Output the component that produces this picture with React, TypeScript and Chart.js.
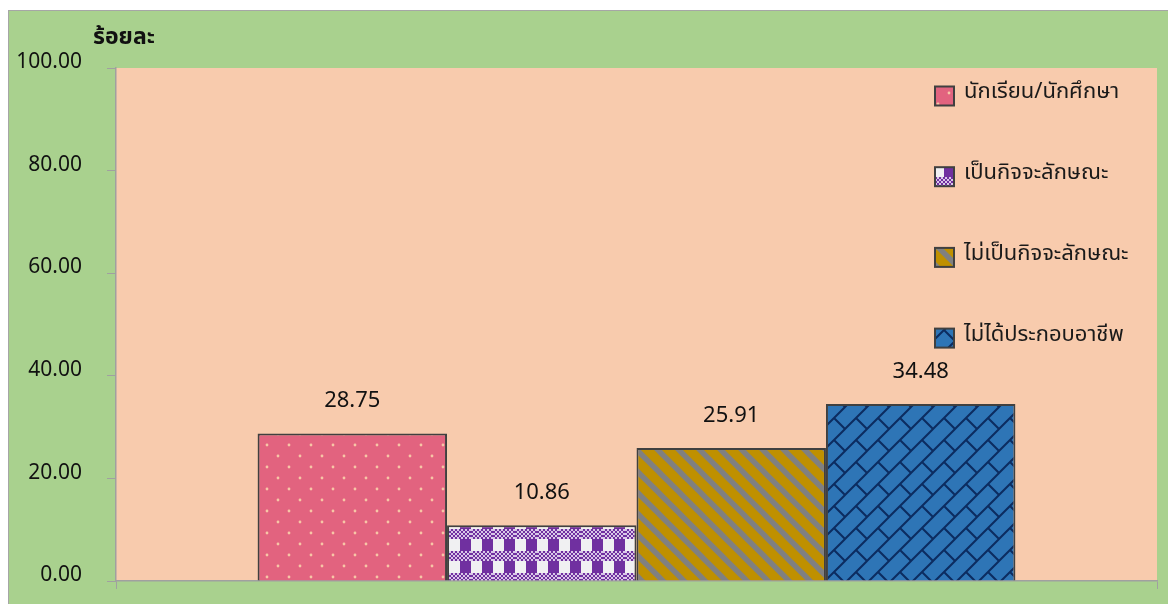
import React, { useEffect, useRef } from "react";
import { Chart, registerables } from "chart.js";

Chart.register(...registerables);

const categories = [""];
const seriesLabels = [
  "นักเรียน/นักศึกษา",
  "เป็นกิจจะลักษณะ",
  "ไม่เป็นกิจจะลักษณะ",
  "ไม่ได้ประกอบอาชีพ",
];
const seriesValues = [28.75, 10.86, 25.91, 34.48];
const yMin = 0;
const yMax = 100;
const yStep = 20;
const yTitle = "ร้อยละ";

const FONT = "'Noto Sans Thai', 'Leelawadee UI', Tahoma, 'Noto Sans', 'DejaVu Sans', sans-serif";

function makeTile(w: number, h: number, draw: (g: CanvasRenderingContext2D) => void) {
  const c = document.createElement("canvas");
  c.width = w;
  c.height = h;
  const g = c.getContext("2d")!;
  draw(g);
  return g.createPattern(c, "repeat")!;
}

function makePatterns() {
  const pink = makeTile(22, 22, (g) => {
    g.fillStyle = "#E2637F";
    g.fillRect(0, 0, 22, 22);
    g.fillStyle = "#F7C6A6";
    for (const [x, y] of [[5, 5], [16, 16]]) {
      g.beginPath();
      g.arc(x, y, 1.4, 0, Math.PI * 2);
      g.fill();
    }
  });
  const purple = makeTile(22, 22, (g) => {
    for (let y = 0; y < 22; y++) {
      for (let x = 0; x < 22; x++) {
        let col: string;
        if (y < 12) col = x < 11 ? "#F0F0F2" : "#7030A0";
        else col = ((x >> 1) + (y >> 1)) % 2 ? "#7030A0" : "#D9C8E8";
        g.fillStyle = col;
        g.fillRect(x, y, 1, 1);
      }
    }
  });
  const gold = makeTile(21, 21, (g) => {
    g.fillStyle = "#BF9000";
    g.fillRect(0, 0, 21, 21);
    g.strokeStyle = "#808080";
    g.lineWidth = 5.5;
    for (const k of [-21, 0, 21]) {
      g.beginPath();
      g.moveTo(k - 5, -5);
      g.lineTo(k + 26, 26);
      g.stroke();
    }
  });
  const blue = makeTile(22, 22, (g) => {
    g.fillStyle = "#2E75B6";
    g.fillRect(0, 0, 22, 22);
    g.strokeStyle = "#0C2C60";
    g.lineWidth = 2;
    g.beginPath();
    g.moveTo(-3, 25);
    g.lineTo(25, -3);
    g.moveTo(-3, 3);
    g.lineTo(3, -3);
    g.moveTo(19, 25);
    g.lineTo(25, 19);
    g.moveTo(10.5, 10.5);
    g.lineTo(23, 23);
    g.moveTo(-1, -1);
    g.lineTo(0.5, 0.5);
    g.stroke();
  });
  return [pink, purple, gold, blue];
}

export default function App() {
  const ref = useRef<HTMLCanvasElement | null>(null);

  useEffect(() => {
    const canvas = ref.current!;
    const patterns = makePatterns();

    const bgPlugin = {
      id: "bgPlugin",
      beforeDraw(chart: any) {
        const { ctx, chartArea } = chart;
        ctx.save();
        ctx.fillStyle = "#A9D18E";
        ctx.fillRect(0, 0, chart.width, chart.height);
        ctx.fillStyle = "#F8CBAD";
        ctx.fillRect(chartArea.left, chartArea.top, chartArea.right - chartArea.left, chartArea.bottom - chartArea.top);
        ctx.restore();
      },
    };

    const labelPlugin = {
      id: "labelPlugin",
      afterDatasetsDraw(chart: any) {
        const { ctx } = chart;
        ctx.save();
        ctx.font = `22px ${FONT}`;
        ctx.fillStyle = "#111111";
        ctx.textAlign = "center";
        ctx.textBaseline = "middle";
        chart.data.datasets.forEach((ds: any, i: number) => {
          const meta = chart.getDatasetMeta(i);
          meta.data.forEach((bar: any, j: number) => {
            ctx.fillText(Number(ds.data[j]).toFixed(2), bar.x, bar.y - 31);
          });
        });
        ctx.restore();
      },
    };

    const legendPlugin = {
      id: "customLegend",
      afterDraw(chart: any) {
        const { ctx } = chart;
        ctx.save();
        const boxX = 926;
        const startY = 85;
        const gap = 80.7;
        const size = 19;
        chart.data.datasets.forEach((ds: any, i: number) => {
          const cy = startY + i * gap;
          ctx.fillStyle = ds.backgroundColor;
          ctx.fillRect(boxX, cy - size / 2, size, size);
          ctx.strokeStyle = "#404040";
          ctx.lineWidth = 2;
          ctx.strokeRect(boxX, cy - size / 2, size, size);
          ctx.fillStyle = "#1A1A1A";
          ctx.font = `22px ${FONT}`;
          ctx.textAlign = "left";
          ctx.textBaseline = "middle";
          ctx.fillText(ds.label, boxX + 29, cy - 2);
        });
        ctx.font = `bold 23px ${FONT}`;
        ctx.fillStyle = "#111111";
        ctx.textAlign = "center";
        ctx.textBaseline = "middle";
        ctx.fillText(yTitle, 115, 28);
        ctx.restore();
      },
    };

    const chart = new Chart(canvas, {
      type: "bar",
      data: {
        labels: categories,
        datasets: seriesLabels.map((label, i) => ({
          label,
          data: [seriesValues[i]],
          backgroundColor: patterns[i] as any,
          borderColor: "#404040",
          borderWidth: 2,
          barPercentage: 1,
          categoryPercentage: 0.728,
        })),
      },
      options: {
        animation: false,
        responsive: false,
        devicePixelRatio: 1,
        layout: { padding: { top: 57, right: 11, left: 0, bottom: 0 } },
        plugins: {
          legend: { display: false },
          tooltip: { enabled: false },
          title: { display: false },
        },
        scales: {
          x: {
            grid: {
              display: true,
              drawOnChartArea: false,
              drawTicks: true,
              tickLength: 8,
              color: "#A0A0A0",
              offset: true,
            },
            border: { display: true, color: "#A0A0A0", width: 1.5 },
            ticks: { display: false },
            afterFit(scale: any) {
              scale.height = 23;
              scale.paddingLeft = 0;
              scale.paddingRight = 0;
            },
          },
          y: {
            min: yMin,
            max: yMax,
            ticks: {
              stepSize: yStep,
              callback: (v: any) => Number(v).toFixed(2),
              font: { size: 21, family: FONT },
              color: "#111111",
              padding: 25,
              labelOffset: -4,
            },
            grid: {
              drawOnChartArea: false,
              drawTicks: true,
              tickLength: 9,
              color: "#A0A0A0",
            },
            border: { display: true, color: "#A0A0A0", width: 1.5 },
            afterFit(scale: any) {
              scale.width = 107;
              scale.paddingTop = 0;
              scale.paddingBottom = 0;
            },
          },
        },
      },
      plugins: [bgPlugin, labelPlugin, legendPlugin],
    });

    return () => chart.destroy();
  }, []);

  return (
    <div
      style={{
        position: "absolute",
        left: 8,
        top: 10,
        width: 1160,
        height: 594,
        boxSizing: "border-box",
        borderLeft: "1px solid #A6A6A6",
        borderTop: "1px solid #A6A6A6",
        overflow: "hidden",
      }}
    >
      <canvas ref={ref} width={1159} height={593} style={{ display: "block" }} />
    </div>
  );
}
